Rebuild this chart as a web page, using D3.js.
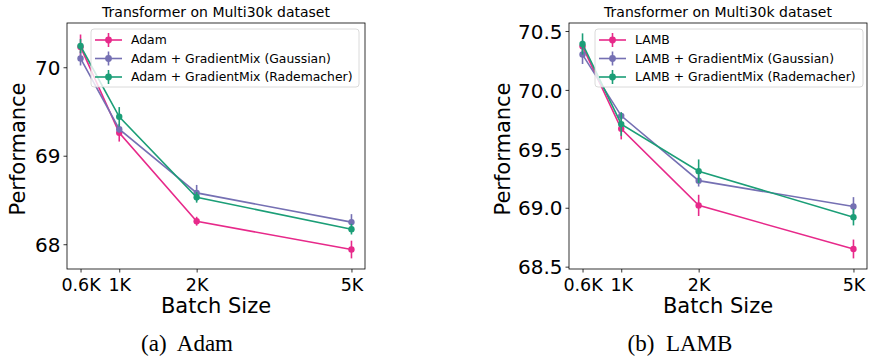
<!DOCTYPE html>
<html>
<head>
<meta charset="utf-8">
<script src="https://cdn.jsdelivr.net/npm/d3@7"></script>
<style>
  body { margin: 0; background: #fff; }
  svg text { font-family: "DejaVu Sans", sans-serif; fill: #000; }
  .caption { font-family: "Liberation Serif", "Times New Roman", serif; }
  .domain { display: none; }
  .tick line { stroke: #000; stroke-width: 0.8; }
</style>
</head>
<body>
<div class="container"></div>
<script>
const WIDTH = 869;
const HEIGHT = 357;

// batch sizes (x positions) and the labels shown on the axis
var batchSizes = [512, 1024, 2048, 4096];
var batchLabels = ["0.6K", "1K", "2K", "5K"];

// (a) Adam
var adamTicks = [68, 69, 70];
var adamMean = [70.23, 69.26, 68.26, 67.94];
var adamErr = [0.14, 0.10, 0.05, 0.10];
var adamGaussMean = [70.10, 69.30, 68.58, 68.25];
var adamGaussErr = [0.08, 0.04, 0.09, 0.09];
var adamRadeMean = [70.24, 69.44, 68.53, 68.17];
var adamRadeErr = [0.08, 0.11, 0.06, 0.06];

// (b) LAMB
var lambTicks = [68.5, 69.0, 69.5, 70.0, 70.5];
var lambMean = [70.37, 69.67, 69.02, 68.65];
var lambErr = [0.05, 0.09, 0.09, 0.08];
var lambGaussMean = [70.30, 69.78, 69.23, 69.01];
var lambGaussErr = [0.08, 0.03, 0.05, 0.08];
var lambRadeMean = [70.39, 69.71, 69.31, 68.92];
var lambRadeErr = [0.09, 0.10, 0.10, 0.07];

var COLORS = ["#e7298a", "#7570b3", "#1b9e77"];

var translate = function(x, y){
  return "translate(" + x + "," + y + ")";
};

var svg = d3.select('.container').append('svg')
  .attr('width', WIDTH)
  .attr('height', HEIGHT);

var drawPanel = function(p){
  var w = p.right - p.left, h = p.bottom - p.top;
  var g = svg.append('g').attr('transform', translate(p.left, p.top));

  var xScale = d3.scaleLinear().domain([333, 4275]).range([0, w]);
  var yScale = d3.scaleLinear().domain(p.yDomain).range([h, 0]);

  var xAxis = d3.axisBottom(xScale).tickValues(batchSizes)
    .tickFormat(function(d, i){ return batchLabels[i]; })
    .tickSizeInner(3.5).tickSizeOuter(0).tickPadding(4);
  var yAxis = d3.axisLeft(yScale).tickValues(p.yTicks)
    .tickFormat(p.yFormat).tickSizeInner(3.5).tickSizeOuter(0).tickPadding(3);

  g.append('g').attr('transform', translate(0, h)).call(xAxis)
    .selectAll('text').style('font-size', '17.5px').attr('dy', '0.85em');
  g.append('g').call(yAxis)
    .selectAll('text').style('font-size', '20px').attr('dy', '0.36em');

  var line = d3.line()
    .x(function(d){ return xScale(d[0]); })
    .y(function(d){ return yScale(d[1]); });

  p.series.forEach(function(s, k){
    var pts = batchSizes.map(function(b, i){ return [b, s.mean[i], s.err[i]]; });
    var sg = g.append('g');
    sg.selectAll('.err').data(pts).enter().append('line')
      .attr('x1', function(d){ return xScale(d[0]); })
      .attr('x2', function(d){ return xScale(d[0]); })
      .attr('y1', function(d){ return yScale(d[1] - d[2]); })
      .attr('y2', function(d){ return yScale(d[1] + d[2]); })
      .attr('stroke', COLORS[k]).attr('stroke-width', 1.6);
    sg.append('path').attr('d', line(pts))
      .attr('fill', 'none').attr('stroke', COLORS[k]).attr('stroke-width', 1.6);
    sg.selectAll('circle').data(pts).enter().append('circle')
      .attr('cx', function(d){ return xScale(d[0]); })
      .attr('cy', function(d){ return yScale(d[1]); })
      .attr('r', 3.2).attr('fill', COLORS[k]);
  });

  // frame
  g.append('rect').attr('width', w).attr('height', h)
    .attr('fill', 'none').attr('stroke', '#000').attr('stroke-width', 0.8);

  // legend
  var lg = g.append('g').attr('transform', translate(p.legendX, 6));
  lg.append('rect').attr('width', p.legendW).attr('height', 58)
    .attr('rx', 3).attr('fill', 'rgba(255,255,255,0.8)')
    .attr('stroke', '#d0d0d0').attr('stroke-width', 0.8);
  p.series.forEach(function(s, k){
    var ly = 11 + k * 18.5;
    lg.append('line').attr('x1', 4).attr('x2', 31).attr('y1', ly).attr('y2', ly)
      .attr('stroke', COLORS[k]).attr('stroke-width', 1.6);
    lg.append('line').attr('x1', 17.5).attr('x2', 17.5).attr('y1', ly - 7).attr('y2', ly + 7)
      .attr('stroke', COLORS[k]).attr('stroke-width', 1.6);
    lg.append('circle').attr('cx', 17.5).attr('cy', ly).attr('r', 3.4).attr('fill', COLORS[k]);
    lg.append('text').attr('x', 40).attr('y', ly).attr('dy', '0.36em')
      .style('font-size', '12.4px').text(s.name);
  });

  // titles
  svg.append('text').attr('x', p.left + w / 2).attr('y', 17)
    .attr('text-anchor', 'middle').style('font-size', '14px')
    .text('Transformer on Multi30k dataset');
  svg.append('text').attr('x', p.left + w / 2).attr('y', 313)
    .attr('text-anchor', 'middle').style('font-size', '21px').text('Batch Size');
  svg.append('text')
    .attr('transform', translate(p.yLabelX, p.top + h / 2 + 3) + ' rotate(-90)')
    .attr('text-anchor', 'middle').style('font-size', '21px').text('Performance');
  svg.append('text').attr('class', 'caption')
    .attr('x', p.captionX).attr('y', 351)
    .attr('text-anchor', 'middle').style('font-size', '23px')
    .attr('xml:space', 'preserve').text(p.caption);
};

drawPanel({
  left: 67, right: 365, top: 23, bottom: 269,
  yDomain: [67.72, 70.5], yTicks: adamTicks, yFormat: d3.format('d'),
  yLabelX: 25, legendX: 24, legendW: 268, caption: '(a)  Adam', captionX: 187,
  series: [
    { name: 'Adam', mean: adamMean, err: adamErr },
    { name: 'Adam + GradientMix (Gaussian)', mean: adamGaussMean, err: adamGaussErr },
    { name: 'Adam + GradientMix (Rademacher)', mean: adamRadeMean, err: adamRadeErr }
  ]
});

drawPanel({
  left: 569, right: 867, top: 23, bottom: 269,
  yDomain: [68.48, 70.568], yTicks: lambTicks, yFormat: d3.format('.1f'),
  yLabelX: 510, legendX: 26, legendW: 268, caption: '(b)  LAMB', captionX: 680,
  series: [
    { name: 'LAMB', mean: lambMean, err: lambErr },
    { name: 'LAMB + GradientMix (Gaussian)', mean: lambGaussMean, err: lambGaussErr },
    { name: 'LAMB + GradientMix (Rademacher)', mean: lambRadeMean, err: lambRadeErr }
  ]
});
</script>
</body>
</html>
